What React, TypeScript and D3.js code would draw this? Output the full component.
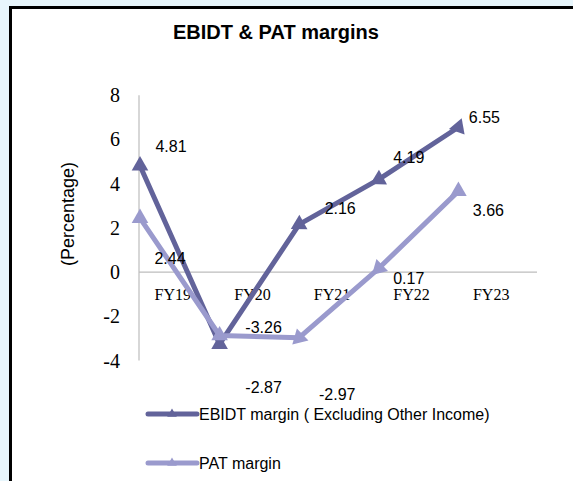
import React from "react";
import * as d3 from "d3";

const categories = ["FY19", "FY20", "FY21", "FY22", "FY23"];
const ebidtValues = [4.81, -3.26, 2.16, 4.19, 6.55];
const patValues = [2.44, -2.87, -2.97, 0.17, 3.66];
const yTicks = [-4, -2, 0, 2, 4, 6, 8];
const seriesNames = ["EBIDT margin ( Excluding Other Income)", "PAT margin"];

// label placement offsets (dx, dy) relative to point
const ebidtLabelOffsets = [[31, -19], [44, -17], [41, -16], [30, -22], [26, -10]];
const patLabelOffsets = [[30, 40], [44, 52], [38, 57], [30, 10], [30, 19]];
const ebidtMarkerAngles = [0, 0, 241, 241, 20];
const patMarkerAngles = [0, 0, 226, 226, 0];

const W = 573;
const H = 481;
const C1 = "#62639a";
const C2 = "#9a9acd";

export default function App() {
  const x = d3.scaleBand().domain(categories).range([139, 537]);
  const y = d3.scaleLinear().domain([-4, 8]).range([360.5, 95.2]);
  const px = (c: string) => (x(c) as number) + 1;
  const line = d3
    .line<number>()
    .x((_, i) => px(categories[i]))
    .y((v) => y(v));
  const tri = d3.symbol().type(d3.symbolTriangle).size(120)() as string;
  const triSmall = d3.symbol().type(d3.symbolTriangle).size(40)() as string;
  const series = [
    { vals: ebidtValues, color: C1, offs: ebidtLabelOffsets, angles: ebidtMarkerAngles },
    { vals: patValues, color: C2, offs: patLabelOffsets, angles: patMarkerAngles },
  ];
  const sans = "'Liberation Sans', Arial, sans-serif";
  const serif = "'Liberation Serif', 'Times New Roman', serif";
  return (
    <svg
      width={W}
      height={H}
      style={{ position: "fixed", left: 0, top: 0 }}
      xmlns="http://www.w3.org/2000/svg"
    >
      <rect x={0} y={0} width={W} height={H} fill="#e8f6fc" />
      <rect x={10.5} y={7.5} width={W + 20} height={H + 20} fill="#ffffff" stroke="#000" strokeWidth={3} />
      <text x={276} y={39} textAnchor="middle" fontFamily={sans} fontWeight="bold" fontSize={20}>
        EBIDT &amp; PAT margins
      </text>
      <text
        transform={`translate(68, 214) rotate(-90)`}
        textAnchor="middle"
        dominantBaseline="central"
        fontFamily={sans}
        fontSize={18}
      >
        (Percentage)
      </text>
      {yTicks.map((t) => (
        <text
          key={t}
          x={120}
          y={y(t)}
          textAnchor="end"
          dominantBaseline="central"
          fontFamily={serif}
          fontSize={20}
        >
          {t}
        </text>
      ))}
      <line x1={139} x2={139} y1={y(8)} y2={y(-4)} stroke="#bdbdbd" strokeWidth={1.2} />
      <line x1={139} x2={537} y1={y(0)} y2={y(0)} stroke="#bdbdbd" strokeWidth={1.2} />
      {categories.map((c) => (
        <text
          key={c}
          x={(x(c) as number) + x.bandwidth() / 2 - 6}
          y={300}
          textAnchor="middle"
          fontFamily={serif}
          fontSize={16}
        >
          {c}
        </text>
      ))}
      {series.map((s, si) => (
        <g key={si}>
          <path d={line(s.vals) as string} fill="none" stroke={s.color} strokeWidth={5} strokeLinejoin="round" />
          {s.vals.map((v, i) => (
            <path
              key={i}
              d={tri}
              fill={s.color}
              transform={`translate(${px(categories[i])},${y(v)}) rotate(${s.angles[i]})`}
            />
          ))}
        </g>
      ))}
      {series.map((s, si) =>
        s.vals.map((v, i) => (
          <text
            key={`${si}-${i}`}
            x={px(categories[i]) + s.offs[i][0]}
            y={y(v) + s.offs[i][1]}
            textAnchor="middle"
            dominantBaseline="central"
            fontFamily={sans}
            fontSize={16}
          >
            {v.toFixed(2)}
          </text>
        ))
      )}
      {series.map((s, si) => {
        const ly = 414 + si * 49;
        return (
          <g key={`lg${si}`}>
            <line x1={148} x2={197} y1={ly} y2={ly} stroke={s.color} strokeWidth={5} strokeLinecap="round" />
            <path d={triSmall} fill={s.color} transform={`translate(172,${ly})`} />
            <text x={199} y={ly} dominantBaseline="central" fontFamily={sans} fontSize={16}>
              {seriesNames[si]}
            </text>
          </g>
        );
      })}
    </svg>
  );
}
